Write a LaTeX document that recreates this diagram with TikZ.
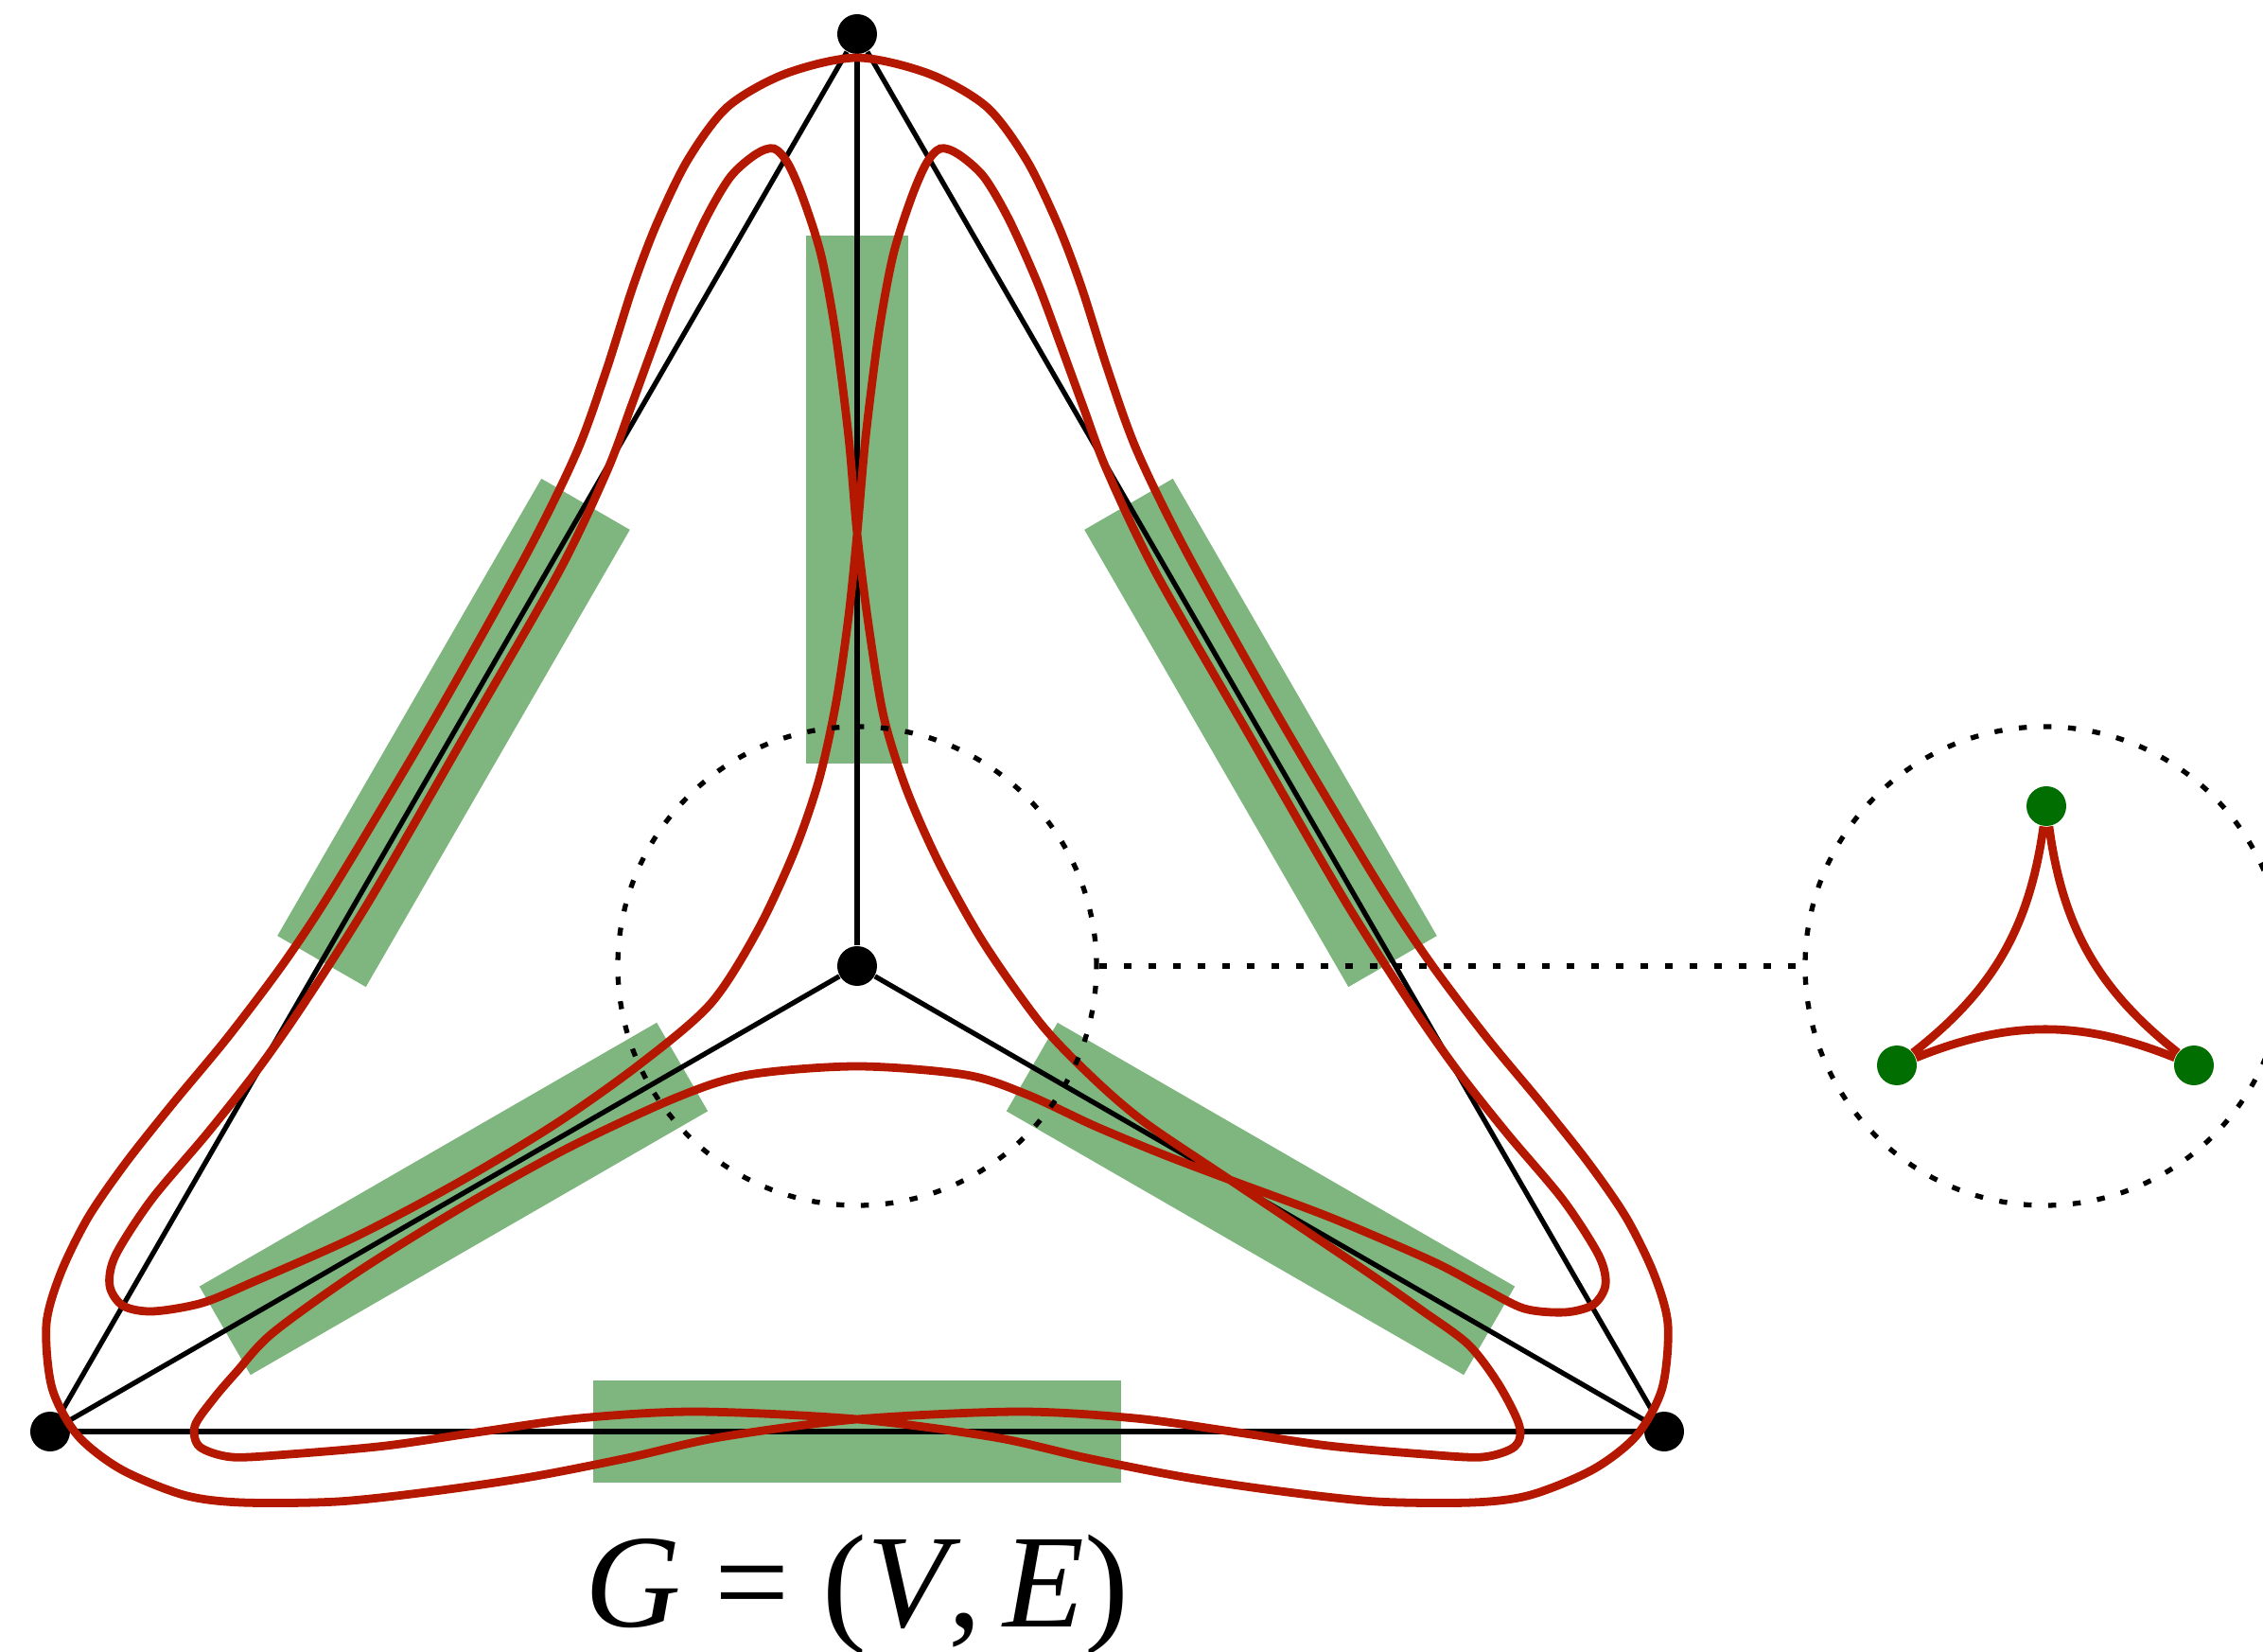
\documentclass[tikz,border=0pt]{standalone}
\usepackage{fontspec}
\setmainfont{Liberation Serif}
\usepackage{tikz}

\definecolor{bandgreen}{RGB}{0,110,0}
\definecolor{curvered}{RGB}{180,24,0}

\begin{document}
\begin{tikzpicture}[
        % Style for the graph vertices
        vertex/.style={circle, fill=black, minimum size=0.42cm, inner sep=0pt},
        % Style for the green bands on the edges
        band/.style={rectangle, fill=bandgreen, fill opacity=0.5, minimum width=5.58cm, minimum height=1.08cm, inner sep=0pt},
        % Style for the graph edges
        graphedge/.style={line width=1.5pt, black},
        % Style for the red boundary curve
        strand/.style={line width=2.5pt, curvered},
        % Style for the dotted rings and their link
        dotline/.style={line width=1.5pt, dash pattern=on 2.4pt off 5pt},
        ring/.style={circle, draw=black, dotline, minimum size=5.06cm, inner sep=0pt},
        % Style for the green half-edge dots
        halfedge/.style={circle, fill=bandgreen, minimum size=0.42cm, inner sep=0pt}
    ]

    \useasboundingbox (-9.06,-7.25) rectangle (14.86,10.21);

    % --- Vertices ---
    \node[vertex] (C) at (0,0) {};
    \node[vertex] (T) at (0,9.85) {};
    \node[vertex] (L) at (-8.53,-4.92) {};
    \node[vertex] (R) at (8.53,-4.92) {};

    % --- Green bands ---
    \path (C) -- (T) node[band, midway, sloped] (bandCT) {};
    \path (L) -- (C) node[band, midway, sloped] (bandLC) {};
    \path (C) -- (R) node[band, midway, sloped] (bandCR) {};
    \path (L) -- (T) node[band, midway, sloped] (bandLT) {};
    \path (T) -- (R) node[band, midway, sloped] (bandTR) {};
    \path (L) -- (R) node[band, midway, sloped] (bandLR) {};

    % --- Edges ---
    \draw[graphedge] (T) -- (L);
    \draw[graphedge] (T) -- (R);
    \draw[graphedge] (L) -- (R);
    \draw[graphedge] (C) -- (T);
    \draw[graphedge] (C) -- (L);
    \draw[graphedge] (C) -- (R);

    % --- Red boundary curve ---
    \draw[strand] plot[smooth cycle, tension=0.5] coordinates {
        % outer arc over T, down the outside of TL, round L
        (0,9.60) (-0.76,9.43) (-1.37,9.08) (-1.79,8.52) (-2.12,7.84) (-2.37,7.18)
        (-2.65,6.30) (-2.96,5.44) (-3.49,4.36) (-4.47,2.61) (-5.49,0.90) (-6.04,0.06)
        (-6.65,-0.75) (-7.23,-1.45) (-7.73,-2.08) (-8.13,-2.66) (-8.42,-3.25) (-8.57,-3.79)
        (-8.51,-4.46) (-8.24,-4.96) (-7.78,-5.32) (-7.12,-5.59) (-6.51,-5.67) (-5.49,-5.66)
        (-4.47,-5.55) (-3.45,-5.40) (-2.43,-5.20) (-1.45,-4.98) (0,-4.79)
        % inner hook at R, then along CR
        (1.70,-4.71) (2.94,-4.78) (3.96,-4.92) (4.98,-5.07) (6.00,-5.16) (6.61,-5.19)
        (6.95,-5.08) (7.00,-4.86) (6.78,-4.42) (6.46,-4.00) (5.97,-3.64) (5.37,-3.22)
        (3.94,-2.26)
        (3.05,-1.66) (2.51,-1.20) (1.95,-0.62) (1.34,0.24) (0.87,1.08) (0.52,1.87)
        (0.28,2.64) (0.12,3.61) (0,4.57)
        % left hump at T, inside of TL, hook at L
        (-0.09,5.59) (-0.23,6.70) (-0.38,7.51) (-0.57,8.11) (-0.73,8.48) (-0.88,8.64)
        (-1.07,8.58) (-1.34,8.34) (-1.61,7.88) (-1.91,7.21) (-2.16,6.54) (-2.39,5.91)
        (-2.64,5.24) (-3.15,4.17) (-4.15,2.43) (-5.15,0.70) (-5.85,-0.40) (-6.34,-1.10)
        (-6.87,-1.77) (-7.46,-2.47) (-7.84,-3.06) (-7.90,-3.38) (-7.76,-3.59) (-7.45,-3.65)
        (-6.92,-3.56) (-6.34,-3.32) (-5.28,-2.85) (-4.22,-2.29) (-3.19,-1.67) (-2.30,-1.04)
        (-1.55,-0.40) (-1.05,0.38) (-0.66,1.22) (-0.40,1.98) (-0.22,2.80) (-0.09,3.70)
        (0,4.57)
        % right hump at T, inside of TR, hook at R
        (0.09,5.59) (0.23,6.70) (0.38,7.51) (0.57,8.11) (0.73,8.48) (0.88,8.64)
        (1.07,8.58) (1.34,8.34) (1.61,7.88) (1.91,7.21) (2.16,6.54) (2.39,5.91)
        (2.64,5.24) (3.15,4.17) (4.15,2.43) (5.15,0.70) (5.85,-0.40) (6.34,-1.10)
        (6.87,-1.77) (7.46,-2.47) (7.84,-3.06) (7.91,-3.37) (7.78,-3.58) (7.48,-3.66)
        (7.05,-3.62) (6.61,-3.40) (6.08,-3.12) (5.01,-2.66) (3.94,-2.26)
        % arc under C, along LC, hook at L
        (3.23,-1.99) (2.51,-1.69) (1.80,-1.36) (1.15,-1.15) (0,-1.06) (-1.15,-1.15)
        (-1.91,-1.39) (-3.05,-1.92) (-4.18,-2.55) (-5.29,-3.24) (-6.18,-3.88) (-6.56,-4.29)
        (-6.80,-4.57) (-7.00,-4.86) (-6.95,-5.08) (-6.61,-5.19) (-6.00,-5.16) (-4.98,-5.07)
        (-3.96,-4.92) (-2.94,-4.78) (-1.70,-4.71) (0,-4.79)
        % outer arc round R, up the outside of TR
        (1.45,-4.98) (2.43,-5.20) (3.45,-5.40) (4.47,-5.55) (5.49,-5.66) (6.51,-5.67)
        (7.12,-5.59) (7.78,-5.32) (8.24,-4.96) (8.51,-4.46) (8.57,-3.79) (8.42,-3.25)
        (8.13,-2.66) (7.73,-2.08) (7.23,-1.45) (6.65,-0.75) (6.04,0.06) (5.49,0.90)
        (4.47,2.61) (3.49,4.36) (2.96,5.44) (2.65,6.30) (2.37,7.18) (2.12,7.84)
        (1.79,8.52) (1.37,9.08) (0.76,9.43)
    };

    % --- Dotted rings ---
    \node[ring] (ringC) at (C) {};
    \node[ring] (ringZ) at (12.55,0) {};
    \draw[dotline] (ringC) -- (ringZ);

    % --- Zoomed vertex ---
    \node[halfedge] (h1) at (12.57,1.69) {};
    \node[halfedge] (h2) at (10.99,-1.05) {};
    \node[halfedge] (h3) at (14.13,-1.05) {};
    \draw[strand] (h1) to[bend left=22] (h2);
    \draw[strand] (h2) to[bend left=22] (h3);
    \draw[strand] (h3) to[bend left=22] (h1);

    % --- Label ---
    \node[anchor=base] (title) at (0,-6.98) {\fontsize{40}{46}\selectfont\textit{G} = (\textit{V},\,\textit{E})};

\end{tikzpicture}
\end{document}
